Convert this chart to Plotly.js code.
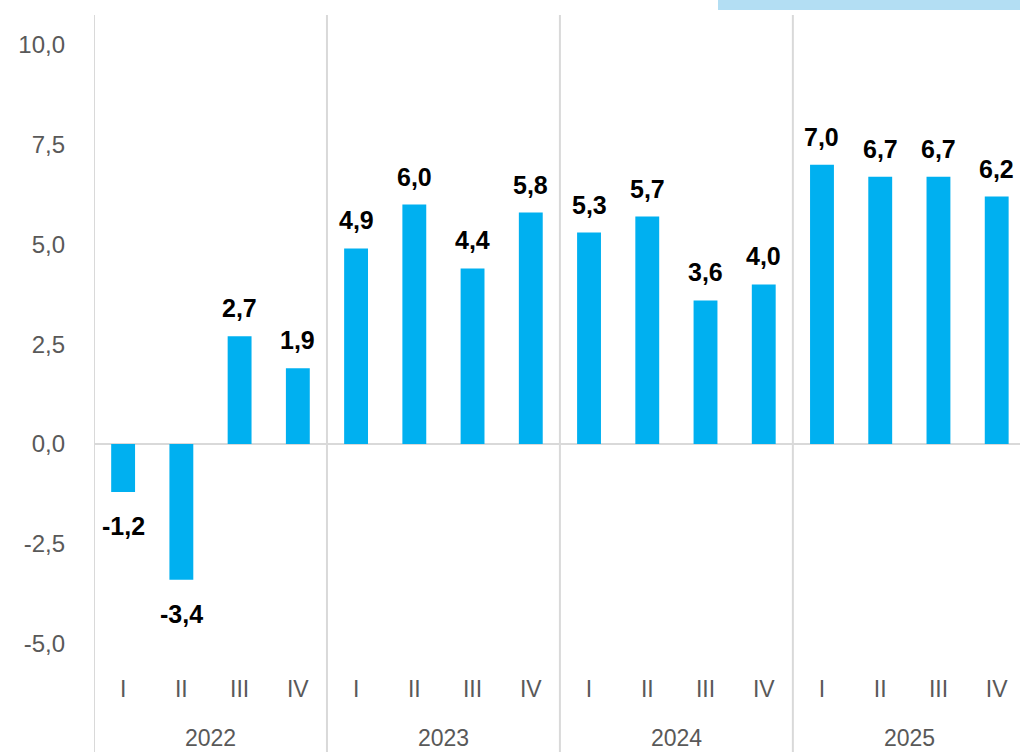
<!DOCTYPE html>
<html><head><meta charset="utf-8">
<script src="https://cdn.plot.ly/plotly-3.0.1.min.js"></script>
<style>html,body{margin:0;padding:0;background:#fff}#chart{width:1020px;height:752px}</style>
</head><body><div id="chart"></div>
<script>
const years = ["2022","2023","2024","2025"];
const quarters = ["I","II","III","IV"];
const values = [-1.2,-3.4,2.7,1.9, 4.9,6.0,4.4,5.8, 5.3,5.7,3.6,4.0, 7.0,6.7,6.7,6.2];
const yTicks = [-5,-2.5,0,2.5,5,7.5,10];

const xs = values.map((v,i)=>i);
const tickText = values.map((v,i)=>quarters[i%4]);
const fmt = v => v.toFixed(1).replace('.', ',');

const annotations = values.map((v,i)=>({
  x:i, y:v, xref:'x', yref:'y', text:'<b>'+fmt(v)+'</b>', showarrow:false,
  yanchor: v>=0?'bottom':'top', yshift: v>=0?12:-18,
  font:{family:'Liberation Sans, Arial', size:25, color:'#000'}
}));
years.forEach((y,g)=>{
  annotations.push({x:g*4+1.5, y:-0.121, xref:'x', yref:'paper', text:y, showarrow:false,
    yanchor:'middle', font:{family:'Liberation Sans, Arial', size:23, color:'#595959'}});
});
const shapes = years.map((y,g)=>({type:'line', xref:'x', yref:'paper', x0:g*4-0.5, x1:g*4-0.5,
  y0:-0.15, y1:1, line:{color:'#d9d9d9', width:2}}));
shapes.push({type:'rect', xref:'paper', yref:'paper', x0:(718-94)/926, x1:1.01, y0:(660-10)/645, y1:(660+0)/645+0.03,
  fillcolor:'#b3def3', line:{width:0}, layer:'above'});

Plotly.newPlot('chart',[{
  type:'bar', x:xs, y:values, width:0.41, marker:{color:'#00b0f0'}, hoverinfo:'skip'
}],{
  width:1020, height:752, margin:{l:94,r:0,t:15,b:92},
  paper_bgcolor:'#fff', plot_bgcolor:'#fff', showlegend:false,
  separators:',.',
  xaxis:{range:[-0.5,15.4], tickmode:'array', tickvals:xs, ticktext:tickText,
    showgrid:false, zeroline:false, showline:false, ticks:'', ticklabelstandoff:13,
    tickfont:{family:'Liberation Sans, Arial', size:23, color:'#595959'}},
  yaxis:{range:[-5.41,10.75], tickmode:'array', tickvals:yTicks, ticktext:yTicks.map(fmt),
    showgrid:false, zeroline:true, zerolinecolor:'#d9d9d9', zerolinewidth:2, showline:false,
    ticks:'', ticklabelstandoff:28,
    tickfont:{family:'Liberation Sans, Arial', size:24, color:'#595959'}},
  annotations:annotations, shapes:shapes
},{displayModeBar:false, staticPlot:true});
</script></body></html>
